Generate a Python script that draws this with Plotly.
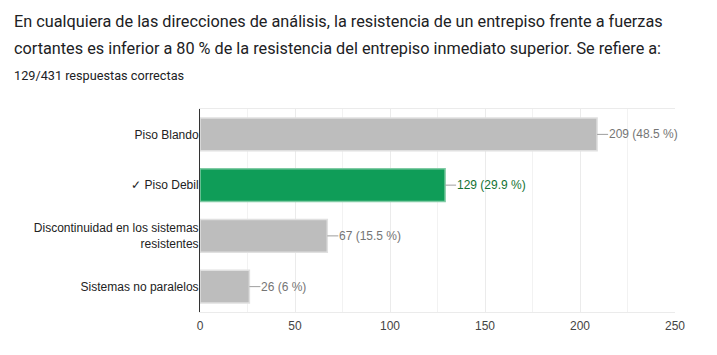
import plotly.graph_objects as go

categories = ["Piso Blando", "✓ Piso Debil", "Discontinuidad en los sistemas<br>resistentes", "Sistemas no paralelos"]
counts = [209, 129, 67, 26]
percents = ["48.5 %", "29.9 %", "15.5 %", "6 %"]
correct = [False, True, False, False]
title_lines = [
    "En cualquiera de las direcciones de análisis, la resistencia de un entrepiso frente a fuerzas",
    "cortantes es inferior a 80 % de la resistencia del entrepiso inmediato superior. Se refiere a:",
]
subtitle = "129/431 respuestas correctas"
x_ticks = [0, 50, 100, 150, 200, 250]

OFF = 8  # default page body margin
W, H = 717 - OFF, 355 - OFF
L, R, T, B = 200 - OFF, 42, 109 - OFF, 43
PW, PH = W - L - R, H - T - B

def px_x(p):
    return (p - OFF - L) / PW

def px_y(p):
    return 1 - (p - OFF - T) / PH

fill = ["#0f9d58" if c else "#bdbdbd" for c in correct]
edge = ["#80cba4" if c else "#e0e0e0" for c in correct]
label_col = ["#137333" if c else "#757575" for c in correct]
chart_font = "Arial, 'Liberation Sans', sans-serif"

fig = go.Figure()
fig.add_trace(go.Bar(
    y=categories, x=counts, orientation="h",
    marker=dict(color=fill, line=dict(color=edge, width=1.5)),
    width=0.65, hoverinfo="skip",
))

for cat, n, pct, col in zip(categories, counts, percents, label_col):
    fig.add_annotation(
        x=n, y=cat, xref="x", yref="y",
        text=f"{n} ({pct})", showarrow=True, arrowhead=0, arrowwidth=1,
        arrowcolor="#9e9e9e", ax=11, ay=0, xanchor="left", yanchor="middle",
        standoff=0, borderpad=0,
        font=dict(family=chart_font, size=12, color=col),
    )

fig.add_annotation(x=px_x(12), y=px_y(21), xref="paper", yref="paper",
                   text=title_lines[0], showarrow=False, xanchor="left", yanchor="middle",
                   font=dict(family="Roboto, Arial, sans-serif", size=16.25, color="#202124"))
fig.add_annotation(x=px_x(12), y=px_y(49), xref="paper", yref="paper",
                   text=title_lines[1], showarrow=False, xanchor="left", yanchor="middle",
                   font=dict(family="Roboto, Arial, sans-serif", size=16.25, color="#202124"))
fig.add_annotation(x=px_x(12), y=px_y(75), xref="paper", yref="paper",
                   text=subtitle, showarrow=False, xanchor="left", yanchor="middle",
                   font=dict(family="Roboto, Arial, sans-serif", size=12.7, color="#202124"))

fig.update_layout(
    width=W, height=H, margin=dict(l=L, r=R, t=T, b=B),
    paper_bgcolor="white", plot_bgcolor="white", showlegend=False,
    font=dict(family=chart_font, size=12, color="#222222"),
    xaxis=dict(range=[0, 250], tickvals=x_ticks, ticktext=[str(v) for v in x_ticks],
               showgrid=True, gridcolor="#ebebeb", gridwidth=1,
               minor=dict(dtick=25, tick0=0, showgrid=True, gridcolor="#f2f2f2"),
               zeroline=False, showline=True, linecolor="#ebebeb", mirror=True,
               ticks="", ticklabelstandoff=3,
               tickfont=dict(size=12, color="#444444"), fixedrange=True),
    yaxis=dict(autorange="reversed", showline=True, linecolor="#333333", linewidth=1,
               ticks="", ticklabelstandoff=-2, showgrid=False,
               tickfont=dict(size=12, color="#222222"), fixedrange=True),
)

fig.write_html("out.html")
